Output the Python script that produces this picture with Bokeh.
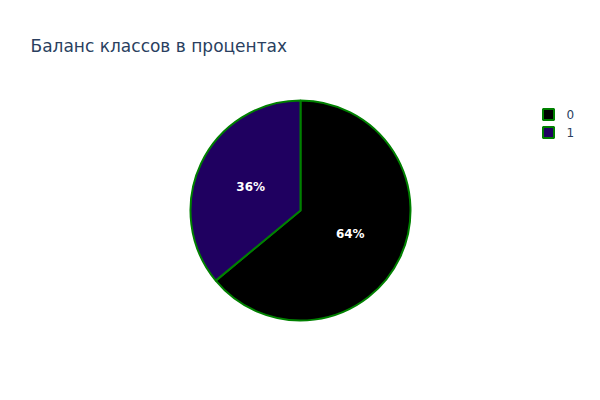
import numpy as np
from bokeh.plotting import figure
from bokeh.models import Range1d, ColumnDataSource
from bokeh.core.properties import value
from bokeh.embed import file_html
from bokeh.resources import INLINE

title = "Баланс классов в процентах"
categories = ["0", "1"]
percents = [64, 36]
colors = ["#000000", "#1f0060"]

FONT = "DejaVu Sans"
W, H = 600, 400
p = figure(width=W, height=H, output_backend="svg", toolbar_location=None,
           x_range=Range1d(0, W), y_range=Range1d(0, H), min_border=0)
p.axis.visible = False
p.grid.visible = False
p.outline_line_color = None
p.background_fill_color = "white"
p.border_fill_color = "white"

cx, cy, r = 300, 190, 110
vals = np.array(percents, dtype=float)
frac = vals / vals.sum()
cum = np.concatenate([[0], np.cumsum(frac)])
# clockwise from 12 o'clock
starts_cw = np.pi / 2 - cum[:-1] * 2 * np.pi
ends_cw = np.pi / 2 - cum[1:] * 2 * np.pi
src = ColumnDataSource(dict(x=[cx] * len(vals), y=[cy] * len(vals),
                            start=ends_cw, end=starts_cw, color=colors))
p.wedge(x="x", y="y", radius=r, start_angle="start", end_angle="end",
        fill_color="color", line_color="green", line_width=2, source=src)

mid = np.pi / 2 - (cum[:-1] + frac / 2) * 2 * np.pi
lx = cx + 0.5 * r * np.cos(mid)
ly = cy + 0.5 * r * np.sin(mid)
labels = [f"{v:.0f}%" for v in vals]
p.text(x=lx, y=ly, text=labels, text_color="white", text_font=value(FONT),
       text_font_size="12px", text_font_style="bold", text_align="center",
       text_baseline="middle")

# title
p.text(x=[30], y=[H - 45], text=[title], text_color="#2a3f5f", text_font=value(FONT),
       text_font_size="17px", text_align="left", text_baseline="middle")

# legend
ly0 = H - 114
leg_y = [ly0 - 18 * i for i in range(len(categories))]
p.scatter(x=[548] * len(categories), y=leg_y, marker="square", size=11,
          fill_color=colors, line_color="green", line_width=2)
p.text(x=[566] * len(categories), y=leg_y, text=categories, text_color="#2a3f5f",
       text_font=value(FONT), text_font_size="12px", text_align="left",
       text_baseline="middle")

open("out.html", "w").write(file_html(p, INLINE))
